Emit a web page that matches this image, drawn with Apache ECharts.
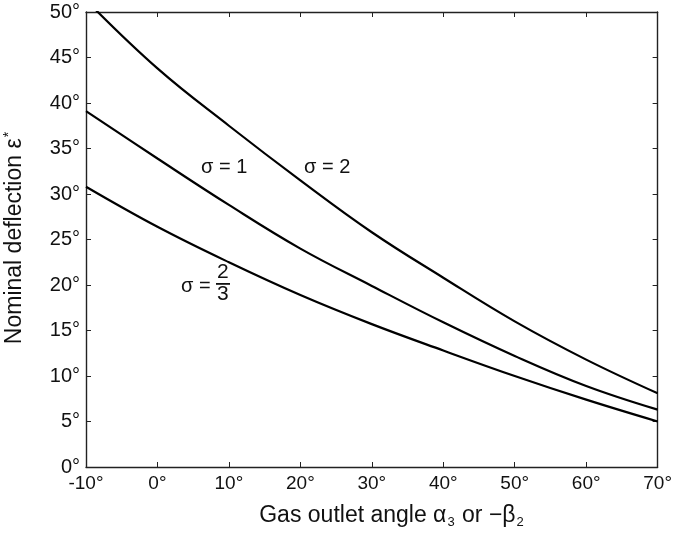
<!DOCTYPE html>
<html>
<head>
<meta charset="utf-8">
<script src="https://cdn.jsdelivr.net/npm/echarts@6/dist/echarts.min.js"></script>
<style>html,body{margin:0;padding:0;background:#fff}#c{width:675px;height:540px}</style>
</head>
<body>
<div id="c"></div>
<script>
const outletAngle = [-10, 0, 10, 20, 30, 40, 50, 60, 70];
const sigma2 = [51.3, 43.8, 37.5, 31.5, 25.8, 20.8, 16.0, 11.8, 8.1];
const sigma1 = [39.1, 33.9, 28.8, 24.0, 19.9, 15.9, 12.2, 8.9, 6.3];
const sigma23 = [30.8, 26.4, 22.5, 18.9, 15.7, 12.8, 10.0, 7.4, 5.0];
const xTicks = [-10, 0, 10, 20, 30, 40, 50, 60, 70];
const yTicks = [0, 5, 10, 15, 20, 25, 30, 35, 40, 45, 50];

const FONT = '"Liberation Sans", Arial, sans-serif';
const chart = echarts.init(document.getElementById('c'), null, {renderer: 'canvas'});
const pairs = ys => outletAngle.map((x, i) => [x, ys[i]]);
const lineSeries = ys => ({
  type: 'line', data: pairs(ys), smooth: 0.4, symbol: 'none', clip: true,
  lineStyle: {color: '#000', width: 2.2}, silent: true
});
const axisCommon = {
  type: 'value',
  axisLine: {show: true, onZero: false, lineStyle: {color: '#222', width: 1.4}},
  axisTick: {show: true, inside: true, length: 5, lineStyle: {color: '#222', width: 1}},
  splitLine: {show: false}
};
chart.setOption({
  backgroundColor: '#fff',
  animation: false,
  grid: {left: 86, right: 14, top: 12, bottom: 73, containLabel: false},
  xAxis: [
    Object.assign({}, axisCommon, {
      position: 'bottom', min: xTicks[0], max: xTicks[xTicks.length - 1], interval: 10,
      axisLabel: {color: '#111', fontFamily: FONT, fontSize: 19, margin: 7, formatter: v => v + '°'}
    }),
    Object.assign({}, axisCommon, {
      position: 'top', min: xTicks[0], max: xTicks[xTicks.length - 1], interval: 10,
      axisLabel: {show: false}
    })
  ],
  yAxis: [
    Object.assign({}, axisCommon, {
      position: 'left', min: yTicks[0], max: yTicks[yTicks.length - 1], interval: 5,
      axisLabel: {color: '#111', fontFamily: FONT, fontSize: 20, margin: 6, formatter: v => v + '°'}
    }),
    Object.assign({}, axisCommon, {
      position: 'right', min: yTicks[0], max: yTicks[yTicks.length - 1], interval: 5,
      axisLabel: {show: false}
    })
  ],
  series: [lineSeries(sigma2), lineSeries(sigma1), lineSeries(sigma23)],
  graphic: [
    {type: 'text', left: 201, top: 157, style: {text: 'σ = 1', fontFamily: FONT, fontSize: 20, fill: '#111'}},
    {type: 'text', left: 304, top: 157, style: {text: 'σ = 2', fontFamily: FONT, fontSize: 20, fill: '#111'}},
    {type: 'text', left: 181, top: 276, style: {text: 'σ =', fontFamily: FONT, fontSize: 20, fill: '#111'}},
    {type: 'text', left: 217, top: 262, style: {text: '2', fontFamily: FONT, fontSize: 21, fill: '#111'}},
    {type: 'rect', shape: {x: 216, y: 283, width: 14, height: 1.8}, style: {fill: '#111'}},
    {type: 'text', left: 217, top: 284, style: {text: '3', fontFamily: FONT, fontSize: 21, fill: '#111'}},
    {type: 'text', x: 392, y: 516, style: {
      text: '{a|Gas outlet angle α}{s|3}{a| or −β}{s|2}',
      align: 'center', verticalAlign: 'middle', fill: '#111',
      rich: {
        a: {fontFamily: FONT, fontSize: 23, lineHeight: 26, verticalAlign: 'middle', fill: '#111'},
        s: {fontFamily: FONT, fontSize: 13, lineHeight: 26, verticalAlign: 'bottom', padding: [10, 1, 0, 1], fill: '#111'}
      }
    }},
    {type: 'text', x: 15, y: 238, rotation: Math.PI / 2, style: {
      text: '{a|Nominal deflection ε}{p|*}',
      align: 'center', verticalAlign: 'middle', fill: '#111',
      rich: {
        a: {fontFamily: FONT, fontSize: 23, lineHeight: 26, verticalAlign: 'middle', fill: '#111'},
        p: {fontFamily: FONT, fontSize: 14, lineHeight: 26, verticalAlign: 'top', padding: [0, 0, 10, 1], fill: '#111'}
      }
    }}
  ]
});
</script>
</body>
</html>
